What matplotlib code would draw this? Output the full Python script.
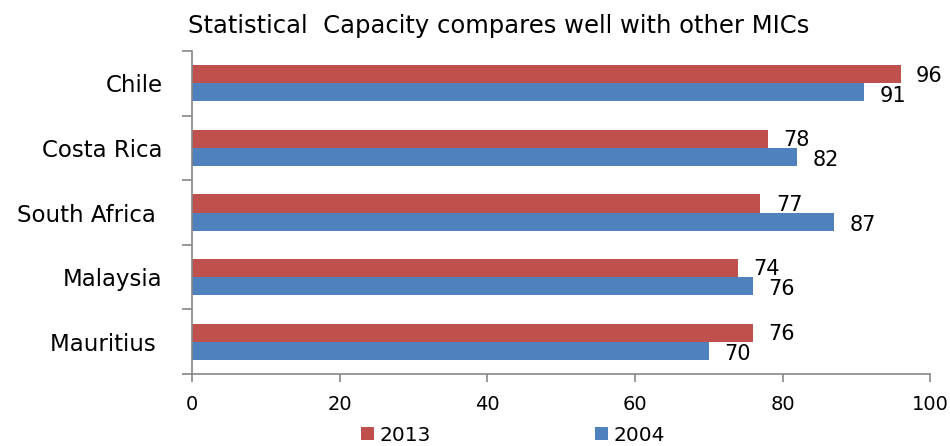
import matplotlib.pyplot as plt
import numpy as np

plt.rcParams['font.family'] = ['DejaVu Sans']

# Countries listed bottom to top
countries = ['Mauritius ', 'Malaysia', 'South Africa ', 'Costa Rica', 'Chile']
score_2013 = [76, 74, 77, 78, 96]
score_2004 = [70, 76, 87, 82, 91]

red = '#C0504D'
blue = '#4F81BD'
grey = '#868686'

fig = plt.figure(figsize=(9.5, 4.46), dpi=100)
ax = fig.add_axes([0.2021, 0.1614, 0.777, 0.724])

y = np.arange(len(countries))
h = 0.28
b13 = ax.barh(y + h / 2, score_2013, height=h, color=red, label='2013')
b04 = ax.barh(y - h / 2, score_2004, height=h, color=blue, label='2004')

# value labels just past the bar ends
for bar, v in zip(b13, score_2013):
    ax.text(v + 2.1, bar.get_y() + bar.get_height() / 2 - 0.02, str(v),
            va='center', ha='left', fontsize=15)
for bar, v in zip(b04, score_2004):
    ax.text(v + 2.1, bar.get_y() + bar.get_height() / 2 - 0.05, str(v),
            va='center', ha='left', fontsize=15)

ax.set_xlim(0, 100)
ax.set_ylim(-0.5, 4.5)
ax.set_xticks(range(0, 101, 20))
ax.set_yticks(y)
ax.set_yticklabels(countries, fontsize=16.5)
ax.set_yticks(np.arange(-0.5, 5, 1), minor=True)
ax.tick_params(axis='y', which='major', length=0, pad=21)
ax.tick_params(axis='y', which='minor', length=7, color=grey, width=1.2)
ax.tick_params(axis='x', length=6, color=grey, width=1.2, pad=9, labelsize=14)

for s in ['top', 'right']:
    ax.spines[s].set_visible(False)
for s in ['left', 'bottom']:
    ax.spines[s].set_color(grey)
    ax.spines[s].set_linewidth(1.2)

ax.set_title('Statistical  Capacity compares well with other MICs',
             fontsize=17.5, pad=13, x=0.415)

fig.legend(handles=[b13, b04], loc='center', bbox_to_anchor=(0.54, 0.024),
           ncol=2, frameon=False, fontsize=14.5, handlelength=0.65,
           handleheight=0.65, handletextpad=0.25, columnspacing=8.15,
           borderpad=0.1)

fig.savefig('out.png', dpi=100)
